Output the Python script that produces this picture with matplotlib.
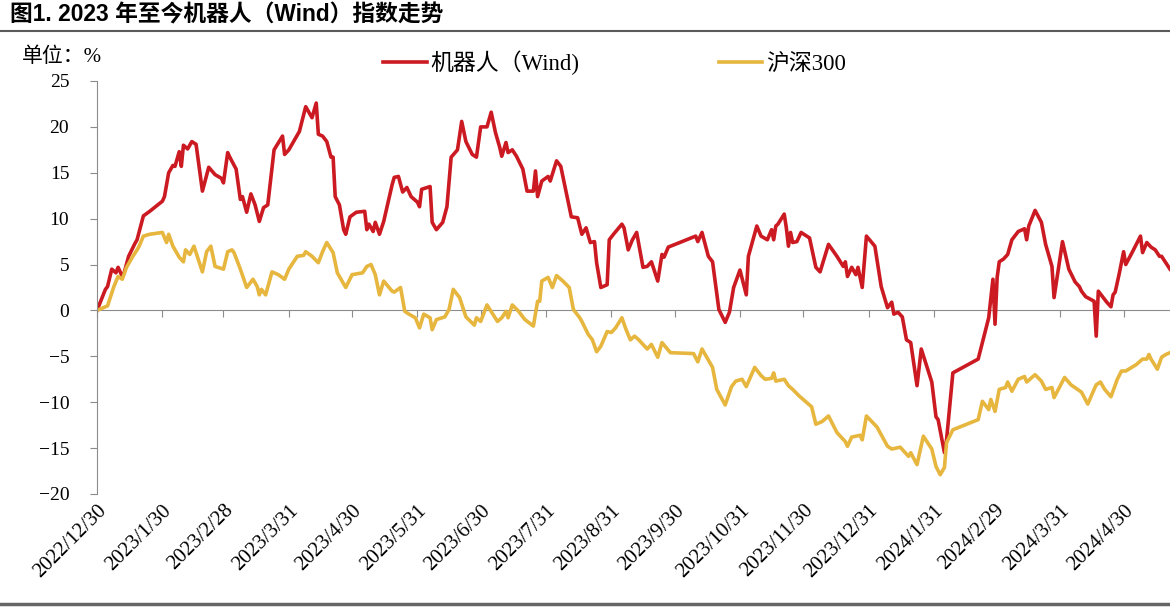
import pandas as pd
import matplotlib
matplotlib.use('Agg')
import matplotlib.pyplot as plt
from matplotlib.lines import Line2D

# day offsets from 2022/12/30 and cumulative change (%)
robot_days = [0, 4, 5, 7, 9, 10, 12, 13, 15, 18, 19, 22, 25, 31, 32, 34, 36, 37, 39, 40,
              41, 43, 45, 47, 50, 53, 56, 59, 60, 62, 63, 66, 68, 69, 71, 73, 75, 77, 79, 81,
              84, 88, 89, 91, 96, 99, 102, 104, 105, 107, 109, 111, 112, 113, 115, 117, 118, 120, 123, 127,
              128, 129, 131, 132, 134, 136, 140, 141, 143, 145, 147, 149, 152, 153, 154, 158, 159, 161, 164, 166,
              168, 171, 173, 175, 178, 180, 182, 185, 187, 189, 191, 192, 194, 195, 197, 199, 202, 204, 207, 208,
              209, 211, 214, 215, 218, 220, 223, 225, 228, 230, 232, 234, 236, 237, 239, 242, 243, 245, 249, 250,
              252, 254, 256, 259, 261, 263, 266, 268, 269, 271, 284, 285, 287, 290, 292, 295, 298, 300, 302, 305,
              308, 309, 313, 315, 318, 320, 321, 322, 323, 326, 327, 328, 329, 330, 332, 334, 338, 341, 343, 347,
              351, 354, 355, 356, 358, 360, 361, 363, 365, 369, 372, 375, 377, 378, 380, 382, 384, 386, 389, 391,
              396, 398, 399, 402, 403, 406, 418, 423, 425, 426, 427, 428, 430, 432, 434, 437, 440, 441, 442, 445,
              448, 450, 453, 454, 458, 461, 464, 466, 467, 469, 473, 474, 475, 479, 481, 482, 483, 485, 487, 488,
              491, 495, 496, 498, 500, 502, 504, 505, 509]
robot_vals = [0.0, 2.3, 2.6, 4.5, 4.1, 4.7, 3.7, 4.2, 5.9, 7.3, 7.7, 10.3, 10.8, 11.9, 12.4, 15.0, 15.8, 15.7, 17.3, 15.7,
              18.0, 17.6, 18.4, 18.1, 13.0, 15.6, 14.8, 14.4, 13.9, 17.2, 16.7, 15.4, 12.1, 12.4, 10.7, 12.7, 11.5, 9.7, 11.2, 11.5,
              17.5, 19.0, 17.0, 17.5, 19.5, 22.2, 21.0, 22.6, 19.2, 19.0, 18.4, 16.7, 16.7, 12.4, 11.5, 8.8, 8.3, 10.2, 10.7, 10.8,
              8.8, 9.4, 8.6, 9.6, 8.3, 9.7, 13.7, 14.5, 14.6, 12.9, 13.4, 12.4, 11.8, 11.3, 13.2, 13.5, 9.6, 8.8, 9.6, 11.3,
              16.7, 17.5, 20.6, 18.4, 17.0, 16.7, 20.0, 20.0, 21.6, 19.4, 17.8, 16.8, 18.3, 17.2, 17.5, 16.8, 15.4, 13.0, 13.0, 15.2,
              12.4, 14.1, 14.6, 14.1, 16.3, 15.7, 12.4, 10.2, 10.1, 8.3, 9.0, 7.4, 7.5, 5.2, 2.5, 2.8, 7.7, 8.3, 9.4, 9.0,
              6.6, 7.7, 8.5, 4.7, 4.8, 5.3, 3.2, 6.1, 5.8, 6.9, 8.1, 7.5, 8.5, 5.9, 5.3, 0.1, -1.3, -0.2, 2.5, 4.4,
              1.7, 5.9, 9.2, 8.1, 7.7, 8.8, 7.7, 9.2, 9.4, 10.5, 9.0, 7.0, 8.5, 7.4, 7.5, 8.5, 7.9, 4.7, 4.2, 7.2,
              5.9, 4.8, 5.3, 3.7, 4.7, 3.9, 4.7, 2.5, 8.1, 7.0, 2.6, 0.3, 0.9, -0.4, -0.2, -0.7, -3.2, -3.5, -8.2, -4.2,
              -7.8, -11.6, -11.9, -15.5, -14.1, -6.8, -5.3, -0.8, 3.4, -1.5, 3.6, 5.3, 5.6, 6.1, 7.7, 8.6, 8.9, 7.7, 9.2, 10.9,
              9.6, 7.2, 4.8, 1.4, 7.5, 4.5, 3.1, 2.6, 2.1, 1.5, 1.0, -2.8, 2.1, 0.9, 0.4, 1.7, 2.0, 4.1, 6.4, 5.0,
              6.3, 8.1, 6.3, 7.4, 6.9, 6.6, 5.9, 5.9, 4.5]

hs300_days = [0, 5, 8, 10, 12, 14, 17, 19, 20, 22, 25, 31, 33, 34, 36, 39, 41, 42, 44, 46,
              50, 52, 54, 56, 60, 62, 64, 65, 68, 71, 74, 76, 77, 78, 80, 83, 86, 89, 91, 95,
              98, 99, 102, 105, 107, 109, 112, 114, 118, 121, 126, 128, 130, 132, 134, 136, 140, 141, 144, 146,
              148, 151, 153, 155, 158, 159, 161, 165, 167, 169, 172, 175, 179, 180, 182, 185, 190, 192, 194, 195,
              197, 200, 203, 207, 209, 210, 211, 214, 216, 218, 221, 224, 226, 229, 230, 233, 235, 237, 239, 242,
              244, 246, 249, 251, 253, 255, 257, 261, 263, 266, 268, 272, 283, 285, 287, 292, 294, 298, 301, 303,
              306, 308, 312, 315, 317, 320, 321, 322, 326, 328, 330, 333, 335, 339, 341, 344, 347, 351, 355, 356,
              358, 362, 363, 365, 370, 375, 377, 381, 383, 385, 386, 389, 392, 396, 398, 400, 402, 403, 406, 418,
              420, 423, 424, 426, 428, 431, 432, 434, 437, 440, 441, 445, 448, 450, 453, 454, 459, 462, 467, 470,
              473, 474, 476, 478, 481, 484, 486, 488, 493, 496, 498, 499, 500, 503, 505, 507, 509]
hs300_vals = [0.0, 0.5, 2.6, 3.7, 3.4, 4.7, 5.9, 6.6, 7.0, 8.1, 8.3, 8.5, 7.4, 8.3, 7.0, 5.8, 5.3, 6.6, 6.1, 7.0,
              4.2, 6.4, 7.0, 4.8, 4.5, 6.4, 6.6, 6.3, 4.5, 2.5, 3.4, 2.6, 1.7, 2.3, 1.7, 4.2, 3.9, 3.4, 4.5, 5.9,
              6.0, 6.4, 5.9, 5.2, 6.4, 7.4, 6.3, 4.1, 2.5, 3.9, 4.1, 4.8, 5.0, 3.9, 1.7, 3.2, 2.1, 2.0, 2.5, -0.1,
              -0.4, -0.8, -1.9, -0.4, -0.8, -2.1, -1.0, -0.7, 0.1, 2.3, 1.4, -0.7, -1.6, -0.8, -1.2, 0.6, -1.2, -0.8, -0.1, -0.8,
              0.6, -0.1, -1.0, -1.7, 1.0, 1.0, 3.2, 3.6, 2.5, 3.8, 3.2, 2.5, 0.1, -0.8, -1.2, -2.6, -3.2, -4.5, -3.9, -2.3,
              -2.4, -1.9, -0.8, -2.1, -3.2, -2.8, -3.2, -4.2, -3.7, -5.1, -3.5, -4.6, -4.7, -5.6, -4.2, -6.2, -8.6, -10.3, -8.3, -7.7,
              -7.5, -8.3, -6.2, -7.1, -7.5, -7.4, -6.8, -7.7, -7.5, -8.2, -8.6, -9.3, -9.7, -10.5, -12.4, -12.1, -11.5, -13.3, -14.3, -14.8,
              -13.8, -13.6, -14.1, -11.5, -12.7, -14.8, -15.1, -14.9, -15.4, -15.9, -15.5, -16.8, -13.7, -15.1, -17.0, -17.9, -17.1, -14.4, -13.0, -11.9,
              -9.9, -10.8, -9.7, -11.0, -8.6, -8.4, -7.8, -8.8, -7.5, -7.2, -7.8, -7.0, -7.7, -8.6, -8.4, -9.5, -7.3, -8.1, -8.9, -10.2,
              -8.6, -8.1, -7.8, -8.6, -9.4, -7.5, -6.6, -6.6, -5.9, -5.3, -5.3, -4.8, -5.3, -6.4, -5.1, -4.8, -4.6]

tick_dates = ['2022-12-30', '2023-01-30', '2023-02-28', '2023-03-31', '2023-04-30', '2023-05-31',
              '2023-06-30', '2023-07-31', '2023-08-31', '2023-09-30', '2023-10-31', '2023-11-30',
              '2023-12-31', '2024-01-31', '2024-02-29', '2024-03-31', '2024-04-30']

start = pd.Timestamp('2022-12-30')
robot_x = start + pd.to_timedelta(robot_days, unit='D')
hs300_x = start + pd.to_timedelta(hs300_days, unit='D')
ticks = pd.to_datetime(tick_dates)
tick_labels = [f"{d.year}/{d.month}/{d.day}" for d in ticks]

serif = ['Liberation Serif', 'Noto Sans CJK SC']
red = '#CC1A22'
yellow = '#E6B63E'

W, H = 1170, 607
fig = plt.figure(figsize=(W / 100, H / 100), dpi=100)
ax = fig.add_axes([97 / W, 1 - 494 / H, 1 - 97 / W, (494 - 81) / H])

ax.plot(robot_x, robot_vals, color=red, lw=2.6, label='机器人（Wind)', solid_joinstyle='round')
ax.plot(hs300_x, hs300_vals, color=yellow, lw=2.6, label='沪深300', solid_joinstyle='round')

ax.set_xlim(start, start + pd.Timedelta(days=509))
ax.set_ylim(-20, 25)
ax.set_yticks(range(-20, 26, 5))

for s in ['top', 'right', 'bottom']:
    ax.spines[s].set_visible(False)
ax.spines['left'].set_color('#8c8c8c')
ax.tick_params(axis='y', direction='out', length=5, color='#8c8c8c', pad=15,
               labelsize=14)
for lab in ax.get_yticklabels():
    lab.set_family(serif)

ax.set_xticks(ticks)
ax.set_xticklabels(tick_labels, rotation=45, ha='right', va='top',
                   rotation_mode='anchor', family=serif, fontsize=15)
ax.tick_params(axis='x', length=0, pad=5)

# zero line with its own tick marks
zero = ax.secondary_xaxis(20 / 45)
zero.set_xticks(ticks)
zero.tick_params(axis='x', direction='out', length=5, color='#8c8c8c', labelbottom=False)
zero.spines['bottom'].set_color('#8c8c8c')

fig.text(10 / W, 1 - 15 / H, '图1. 2023 年至今机器人（Wind）指数走势', ha='left', va='center',
         fontsize=16.4, weight='bold', family=['Liberation Sans', 'Noto Sans CJK SC'])
fig.add_artist(Line2D([0, 1], [1 - 31 / H] * 2, transform=fig.transFigure, color='#5a5a5a', lw=1.5))
fig.add_artist(Line2D([0, 1], [1 - 604 / H] * 2, transform=fig.transFigure, color='#666666', lw=2.5))

fig.text(22 / W, 1 - 57 / H, '单位：%', ha='left', va='center', fontsize=15, family=serif)

fig.legend(loc='center left', bbox_to_anchor=(383 / W, 1 - 63 / H), ncol=2, frameon=False,
           prop={'family': serif, 'size': 16.5}, handlelength=1.9, handletextpad=0.15,
           columnspacing=6.1, borderpad=0, borderaxespad=0)

fig.savefig('out.png', dpi=100)
